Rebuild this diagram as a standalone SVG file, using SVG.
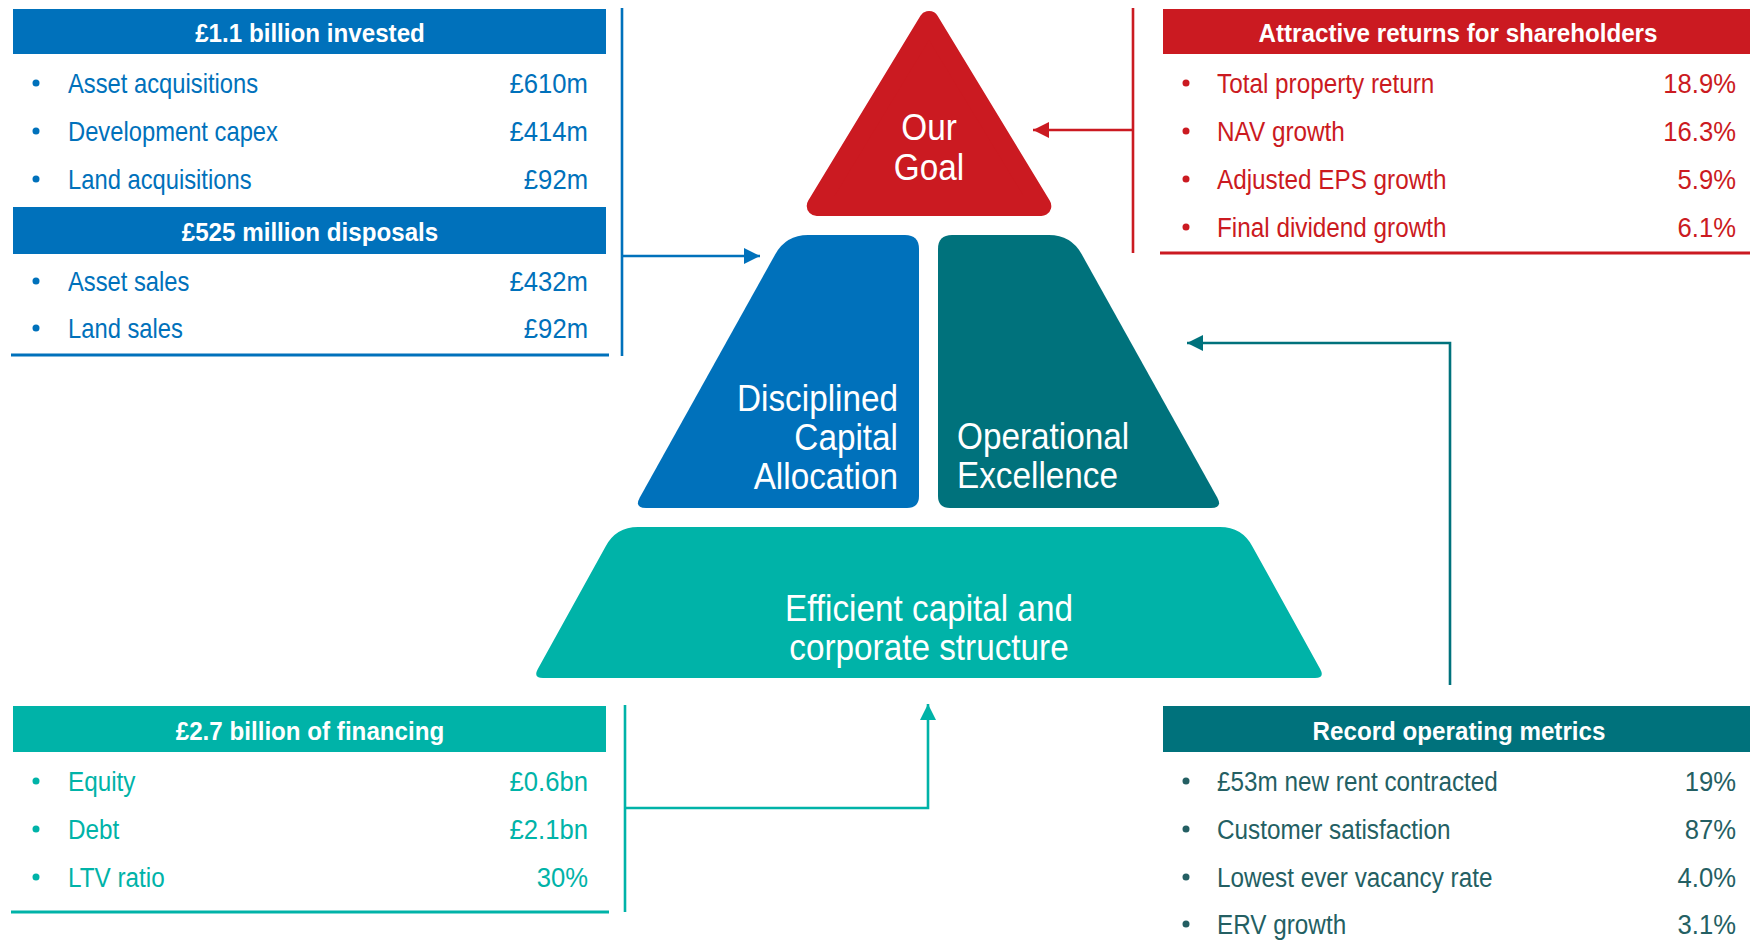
<svg xmlns="http://www.w3.org/2000/svg" width="1750" height="947" viewBox="0 0 1750 947">
  <defs>
    <style>
      text { font-family: "Liberation Sans", Arial, sans-serif; }
      .hd { font-size: 26px; font-weight: bold; fill: #ffffff; text-anchor: middle; }
      .row { font-size: 27px; }
      .end { text-anchor: end; }
      .big { font-size: 37px; fill: #ffffff; }
      .mid { text-anchor: middle; }
      .blue { fill: #0071BB; }
      .red { fill: #CB1A21; }
      .teal { fill: #00B3A8; }
      .dteal { fill: #00727C; }
      .slate { fill: #245F63; }
      .conn { fill: none; stroke-width: 2.6; }
      .rule { stroke-width: 3; }
    </style>
    <marker id="ah-blue" markerUnits="userSpaceOnUse" markerWidth="16" markerHeight="16" refX="16" refY="8" orient="auto">
      <path d="M0,0 L16,8 L0,16 Z" fill="#0071BB"/>
    </marker>
    <marker id="ah-red" markerUnits="userSpaceOnUse" markerWidth="16" markerHeight="16" refX="16" refY="8" orient="auto">
      <path d="M0,0 L16,8 L0,16 Z" fill="#CB1A21"/>
    </marker>
    <marker id="ah-teal" markerUnits="userSpaceOnUse" markerWidth="16" markerHeight="16" refX="16" refY="8" orient="auto">
      <path d="M0,0 L16,8 L0,16 Z" fill="#00B3A8"/>
    </marker>
    <marker id="ah-dteal" markerUnits="userSpaceOnUse" markerWidth="16" markerHeight="16" refX="16" refY="8" orient="auto">
      <path d="M0,0 L16,8 L0,16 Z" fill="#00727C"/>
    </marker>
  </defs>

  <rect width="1750" height="947" fill="#ffffff"/>

  <!-- connectors -->
  <g id="connectors">
    <line class="conn" stroke="#0071BB" x1="622" y1="8" x2="622" y2="356"/>
    <polyline class="conn" stroke="#0071BB" points="622,256 760,256" marker-end="url(#ah-blue)"/>
    <line class="conn" stroke="#CB1A21" x1="1133" y1="8" x2="1133" y2="253"/>
    <polyline class="conn" stroke="#CB1A21" points="1133,130 1033,130" marker-end="url(#ah-red)"/>
    <line class="conn" stroke="#00B3A8" x1="625" y1="705" x2="625" y2="912"/>
    <polyline class="conn" stroke="#00B3A8" points="625,808 928,808 928,704" marker-end="url(#ah-teal)"/>
    <polyline class="conn" stroke="#00727C" points="1450,685 1450,343 1187,343" marker-end="url(#ah-dteal)"/>
  </g>

  <!-- apex: our goal -->
  <g id="node-goal">
    <polygon points="929,20.9 1041.3,206 816.7,206" fill="#CB1A21" stroke="#CB1A21" stroke-width="20" stroke-linejoin="round"/>
    <text class="big mid" transform="translate(929,140) scale(0.9,1)">Our</text>
    <text class="big mid" transform="translate(929,180) scale(0.9,1)">Goal</text>
  </g>

  <!-- left pillar -->
  <g id="node-capital-allocation">
    <path d="M808,235 L905,235 Q919,235 919,249 L919,496 Q919,508 907,508 L646,508 Q634,508 639.8,497.5 L775.3,254.2 Q786,235 808,235 Z" fill="#0071BB"/>
    <text class="big end" transform="translate(898,411) scale(0.9,1)">Disciplined</text>
    <text class="big end" transform="translate(898,450) scale(0.9,1)">Capital</text>
    <text class="big end" transform="translate(898,489) scale(0.9,1)">Allocation</text>
  </g>

  <!-- right pillar -->
  <g id="node-operational">
    <path d="M952,235 L1049,235 Q1071,235 1081.7,254.2 L1217.2,497.5 Q1223,508 1211,508 L950,508 Q938,508 938,496 L938,249 Q938,235 952,235 Z" fill="#00727C"/>
    <text class="big" transform="translate(957,449) scale(0.9,1)">Operational</text>
    <text class="big" transform="translate(957,488) scale(0.9,1)">Excellence</text>
  </g>

  <!-- base -->
  <g id="node-structure">
    <path d="M638,527 L1220,527 Q1242,527 1252.4,546.4 L1320.3,669.2 Q1325,678 1315,678 L543,678 Q533,678 537.7,669.2 L605.6,546.4 Q616,527 638,527 Z" fill="#00B3A8"/>
    <text class="big mid" transform="translate(929,621) scale(0.9,1)">Efficient capital and</text>
    <text class="big mid" transform="translate(929,660) scale(0.9,1)">corporate structure</text>
  </g>

  <!-- investment and disposals panel -->
  <g id="panel-invested">
    <rect x="13" y="9" width="593" height="45" fill="#0071BB"/>
    <text class="hd" transform="translate(310,42) scale(0.93,1)">£1.1 billion invested</text>
    <g class="blue">
      <circle cx="36" cy="83" r="3.5"/>
      <circle cx="36" cy="131" r="3.5"/>
      <circle cx="36" cy="179" r="3.5"/>
      <circle cx="36" cy="281" r="3.5"/>
      <circle cx="36" cy="328" r="3.5"/>
    </g>
    <text class="row blue" transform="translate(68,93) scale(0.88,1)">Asset acquisitions</text>
    <text class="row blue end" transform="translate(588,93) scale(0.95,1)">£610m</text>
    <text class="row blue" transform="translate(68,141) scale(0.88,1)">Development capex</text>
    <text class="row blue end" transform="translate(588,141) scale(0.95,1)">£414m</text>
    <text class="row blue" transform="translate(68,189) scale(0.88,1)">Land acquisitions</text>
    <text class="row blue end" transform="translate(588,189) scale(0.95,1)">£92m</text>
    <rect x="13" y="207" width="593" height="47" fill="#0071BB"/>
    <text class="hd" transform="translate(310,241) scale(0.93,1)">£525 million disposals</text>
    <text class="row blue" transform="translate(68,291) scale(0.88,1)">Asset sales</text>
    <text class="row blue end" transform="translate(588,291) scale(0.95,1)">£432m</text>
    <text class="row blue" transform="translate(68,338) scale(0.88,1)">Land sales</text>
    <text class="row blue end" transform="translate(588,338) scale(0.95,1)">£92m</text>
    <line class="rule" stroke="#0071BB" x1="11" y1="355" x2="609" y2="355"/>
  </g>

  <!-- shareholder returns panel -->
  <g id="panel-returns">
    <rect x="1163" y="9" width="587" height="45" fill="#CB1A21"/>
    <text class="hd" transform="translate(1458,42) scale(0.93,1)">Attractive returns for shareholders</text>
    <g class="red">
      <circle cx="1186" cy="83" r="3.5"/>
      <circle cx="1186" cy="131" r="3.5"/>
      <circle cx="1186" cy="179" r="3.5"/>
      <circle cx="1186" cy="227" r="3.5"/>
    </g>
    <text class="row red" transform="translate(1217,93) scale(0.9,1)">Total property return</text>
    <text class="row red end" transform="translate(1736,93) scale(0.95,1)">18.9%</text>
    <text class="row red" transform="translate(1217,141) scale(0.9,1)">NAV growth</text>
    <text class="row red end" transform="translate(1736,141) scale(0.95,1)">16.3%</text>
    <text class="row red" transform="translate(1217,189) scale(0.9,1)">Adjusted EPS growth</text>
    <text class="row red end" transform="translate(1736,189) scale(0.95,1)">5.9%</text>
    <text class="row red" transform="translate(1217,237) scale(0.9,1)">Final dividend growth</text>
    <text class="row red end" transform="translate(1736,237) scale(0.95,1)">6.1%</text>
    <line class="rule" stroke="#CB1A21" x1="1160" y1="253" x2="1750" y2="253"/>
  </g>

  <!-- financing panel -->
  <g id="panel-financing">
    <rect x="13" y="706" width="593" height="46" fill="#00B3A8"/>
    <text class="hd" transform="translate(310,740) scale(0.93,1)">£2.7 billion of financing</text>
    <g class="teal">
      <circle cx="36" cy="781" r="3.5"/>
      <circle cx="36" cy="829" r="3.5"/>
      <circle cx="36" cy="877" r="3.5"/>
    </g>
    <text class="row teal" transform="translate(68,791) scale(0.9,1)">Equity</text>
    <text class="row teal end" transform="translate(588,791) scale(0.95,1)">£0.6bn</text>
    <text class="row teal" transform="translate(68,839) scale(0.9,1)">Debt</text>
    <text class="row teal end" transform="translate(588,839) scale(0.95,1)">£2.1bn</text>
    <text class="row teal" transform="translate(68,887) scale(0.9,1)">LTV ratio</text>
    <text class="row teal end" transform="translate(588,887) scale(0.95,1)">30%</text>
    <line class="rule" stroke="#00B3A8" x1="11" y1="912" x2="609" y2="912"/>
  </g>

  <!-- operating metrics panel -->
  <g id="panel-metrics">
    <rect x="1163" y="706" width="587" height="46" fill="#00727C"/>
    <text class="hd" transform="translate(1459,740) scale(0.93,1)">Record operating metrics</text>
    <g class="slate">
      <circle cx="1186" cy="781" r="3.5"/>
      <circle cx="1186" cy="829" r="3.5"/>
      <circle cx="1186" cy="877" r="3.5"/>
      <circle cx="1186" cy="924" r="3.5"/>
    </g>
    <text class="row slate" transform="translate(1217,791) scale(0.9,1)">£53m new rent contracted</text>
    <text class="row slate end" transform="translate(1736,791) scale(0.95,1)">19%</text>
    <text class="row slate" transform="translate(1217,839) scale(0.9,1)">Customer satisfaction</text>
    <text class="row slate end" transform="translate(1736,839) scale(0.95,1)">87%</text>
    <text class="row slate" transform="translate(1217,887) scale(0.9,1)">Lowest ever vacancy rate</text>
    <text class="row slate end" transform="translate(1736,887) scale(0.95,1)">4.0%</text>
    <text class="row slate" transform="translate(1217,934) scale(0.9,1)">ERV growth</text>
    <text class="row slate end" transform="translate(1736,934) scale(0.95,1)">3.1%</text>
  </g>
</svg>
